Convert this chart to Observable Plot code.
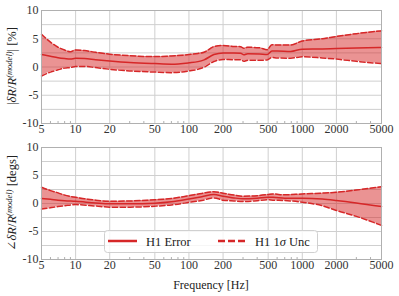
<!DOCTYPE html>
<html><head><meta charset="utf-8">
<script src="https://cdn.jsdelivr.net/npm/d3@7"></script>
<script src="https://cdn.jsdelivr.net/npm/@observablehq/plot@0.6"></script>
<style>
body{margin:0;background:#fff;}
#chart{width:399px;height:296px;position:relative;}
#chart svg{display:block;}
</style></head><body><div id="chart"></div>
<script>
// Magnitude panel (percent)
const magFreq   = [5, 6, 7, 8, 9, 10, 12, 15, 20, 30, 50, 70, 100, 120, 136, 166, 200, 250, 286, 305, 330, 420, 490, 540, 600, 790, 1000, 1500, 2000, 3000, 5000];
const magCenter = [2.2, 1.9, 1.65, 1.5, 1.4, 1.55, 1.5, 1.3, 1.07, 0.8, 0.6, 0.5, 0.74, 0.95, 1.27, 2.2, 2.5, 2.5, 2.45, 2.15, 2.35, 2.3, 2.2, 2.85, 2.85, 2.75, 3.16, 3.2, 3.27, 3.35, 3.45];
const magUpper  = [5.8, 4.4, 3.5, 3.0, 2.7, 3.0, 2.9, 2.6, 2.27, 2.0, 1.84, 1.95, 2.2, 2.4, 2.6, 3.6, 3.8, 3.65, 3.6, 3.3, 3.5, 3.4, 3.05, 3.95, 3.9, 3.9, 4.6, 5.0, 5.4, 5.9, 6.4];
const magLower  = [-1.6, -0.9, -0.5, -0.2, -0.1, 0.1, 0.1, -0.1, -0.4, -0.7, -0.9, -1.0, -0.7, -0.4, -0.03, 0.97, 1.33, 1.3, 1.3, 1.0, 1.2, 1.2, 1.25, 1.7, 1.6, 1.56, 1.8, 1.6, 1.4, 1.0, 0.6];

// Phase panel (degrees)
const phFreq   = [5, 6, 7, 8, 10, 15, 20, 30, 50, 70, 100, 130, 166, 200, 250, 300, 400, 500, 550, 700, 1000, 1500, 2000, 3000, 5000];
const phCenter = [0.9, 0.75, 0.6, 0.5, 0.4, 0.1, -0.05, -0.05, 0.05, 0.3, 0.8, 1.2, 1.6, 1.3, 1.0, 0.85, 0.95, 1.1, 1.1, 0.95, 0.95, 0.8, 0.54, 0.1, -0.54];
const phUpper  = [2.9, 2.3, 1.9, 1.5, 1.1, 0.6, 0.4, 0.45, 0.66, 0.9, 1.4, 1.8, 2.1, 1.84, 1.5, 1.3, 1.4, 1.6, 1.7, 1.55, 1.7, 1.85, 2.0, 2.4, 3.0];
const phLower  = [-1.0, -0.75, -0.55, -0.4, -0.2, -0.45, -0.65, -0.65, -0.48, -0.25, 0.2, 0.55, 1.0, 0.6, 0.45, 0.36, 0.5, 0.66, 0.6, 0.54, 0.23, -0.4, -1.25, -2.3, -3.9];

const xTicks = [5, 10, 20, 50, 100, 200, 500, 1000, 2000, 5000];
const xMinor = [6, 7, 8, 9, 30, 40, 60, 70, 80, 90, 300, 400, 600, 700, 800, 900, 3000, 4000];
const yTicks = [-10, -5, 0, 5, 10];
const yGrid  = [-7.5, -5, -2.5, 0, 2.5, 5, 7.5];
const yDomain = [-10, 10];

const RED = "#d62728";
const FONT = "'Liberation Serif', 'DejaVu Serif', serif";

function panel(freq, c, u, l, height, marginBottom) {
  const rows = freq.map((f, i) => ({f, c: c[i], u: u[i], l: l[i]}));
  return Plot.plot({
    width: 399, height, marginTop: 10, marginBottom, marginLeft: 41, marginRight: 18,
    style: {fontFamily: FONT, fontSize: "12px", color: "#333", background: "#fff", overflow: "visible"},
    x: {type: "log", domain: [5, 5000], axis: null},
    y: {domain: yDomain, axis: null},
    marks: [
      Plot.gridY(yGrid, {stroke: "#cfcfcf", strokeOpacity: 1}),
      Plot.gridX(xTicks.slice(1, -1), {stroke: "#cfcfcf", strokeOpacity: 1}),
      Plot.areaY(rows, {x: "f", y1: "l", y2: "u", fill: RED, fillOpacity: 0.5, curve: "monotone-x"}),
      Plot.lineY(rows, {x: "f", y: "u", stroke: RED, strokeWidth: 1.5, strokeDasharray: "5.5,2.4", curve: "monotone-x"}),
      Plot.lineY(rows, {x: "f", y: "l", stroke: RED, strokeWidth: 1.5, strokeDasharray: "5.5,2.4", curve: "monotone-x"}),
      Plot.lineY(rows, {x: "f", y: "c", stroke: RED, strokeWidth: 1.5, curve: "monotone-x"}),
      Plot.frame({stroke: "#b0b0b0"}),
      Plot.ruleX(xMinor, {x: d => d, y1: yDomain[0], y2: yDomain[0] + 0.35, stroke: "#999", strokeWidth: 0.8}),
      Plot.text(xTicks, {x: d => d, text: d => String(d), frameAnchor: "bottom", dy: 9, fill: "#333", fontSize: 12}),
      Plot.text(yTicks, {y: d => d, text: d => String(d), frameAnchor: "left", dx: -3, textAnchor: "end", fill: "#333", fontSize: 12})
    ]
  });
}

function yLabel(svg, cy, prefix, suffix) {
  const t = d3.select(svg).append("text")
    .attr("transform", `translate(16,${cy}) rotate(-90)`)
    .attr("text-anchor", "middle")
    .attr("font-family", FONT).attr("font-size", 12.5).attr("fill", "#222");
  t.append("tspan").text(prefix);
  t.append("tspan").attr("font-style", "italic").text("δR");
  t.append("tspan").text("/");
  t.append("tspan").attr("font-style", "italic").text("R");
  t.append("tspan").attr("font-size", 8.5).attr("font-style", "italic").attr("dy", -4.5).text("(model)");
  t.append("tspan").attr("dy", 4.5).text(suffix);
}

const chart = document.getElementById("chart");
const magSvg = panel(magFreq, magCenter, magUpper, magLower, 137, 14);
const phSvg = panel(phFreq, phCenter, phUpper, phLower, 159, 37);
chart.appendChild(magSvg);
chart.appendChild(phSvg);

yLabel(magSvg, 66, "|", "| [%]");
yLabel(phSvg, 66, "∠", " [degs]");

const b = d3.select(phSvg);
b.append("text").attr("x", 211).attr("y", 152).attr("text-anchor", "middle")
  .attr("font-family", FONT).attr("font-size", 12).attr("fill", "#222").text("Frequency [Hz]");

// legend
const lg = b.append("g").attr("text-anchor", "start");
lg.append("rect").attr("x", 104.5).attr("y", 93.5).attr("width", 213).attr("height", 22).attr("rx", 3)
  .attr("fill", "#fff").attr("fill-opacity", 0.8).attr("stroke", "#d0d0d0");
lg.append("line").attr("x1", 108).attr("x2", 137).attr("y1", 104).attr("y2", 104)
  .attr("stroke", RED).attr("stroke-width", 2.5);
lg.append("text").attr("x", 146).attr("y", 108.5).attr("text-anchor", "start").attr("font-family", FONT).attr("font-size", 12.5).attr("fill", "#222").text("H1 Error");
lg.append("line").attr("x1", 218).attr("x2", 245).attr("y1", 104).attr("y2", 104)
  .attr("stroke", RED).attr("stroke-width", 2.5).attr("stroke-dasharray", "7,3");
const t2 = lg.append("text").attr("x", 255).attr("y", 108.5).attr("text-anchor", "start").attr("font-family", FONT).attr("font-size", 12.5).attr("fill", "#222");
t2.append("tspan").text("H1 1");
t2.append("tspan").attr("font-style", "italic").text("σ");
t2.append("tspan").text(" Unc");
</script></body></html>
